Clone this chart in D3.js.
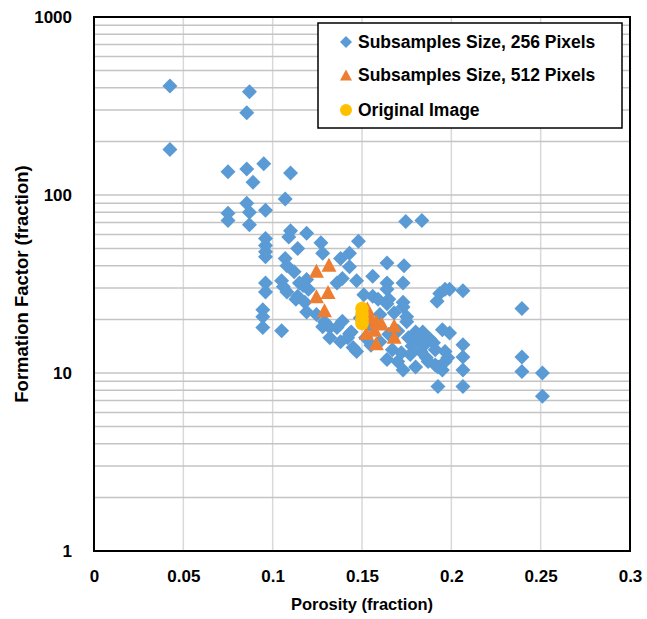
<!DOCTYPE html>
<html>
<head>
<meta charset="utf-8">
<script src="https://cdn.jsdelivr.net/npm/d3@7"></script>
<style>
  html, body { margin: 0; padding: 0; background: #fff; }
  svg { display: block; }
  text { font-family: "Liberation Sans", Arial, sans-serif; font-weight: bold; fill: #000; }
</style>
</head>
<body>
<svg id="chart" width="647" height="619"></svg>
<script>
// Subsamples of 256 pixels: porosity and formation factor
const porosity256 = [0.0425,0.087,0.0855,0.0425,0.075,0.0855,0.095,0.089,0.11,0.107,0.0855,0.075,0.087,0.096,0.075,0.087,0.096,0.11,0.109,0.119,0.114,0.096,0.096,0.096,0.107,0.108,0.105,0.096,0.096,0.112,0.115,0.119,0.108,0.114,0.12,0.0945,0.0945,0.0945,0.105,0.113,0.119,0.118,0.106,0.117,
  0.127,0.128,0.143,0.138,0.143,0.148,0.139,0.136,0.129,0.128,0.132,0.138,0.136,0.139,0.144,0.145,0.147,0.156,0.147,0.164,0.1735,0.164,0.173,0.156,0.164,0.151,0.159,0.165,0.173,0.164,0.173,0.16,0.168,0.175,0.164,0.17,0.167,0.176,0.181,0.177,0.173,0.18,0.1245,0.143,0.132,0.152,0.1545,0.149,0.142,
  0.1745,0.1835,0.175,0.184,0.19,0.1935,0.1965,0.199,0.192,0.2065,0.195,0.199,0.185,0.191,0.1965,0.198,0.187,0.191,0.1965,0.2065,0.2065,0.2065,0.1925,0.195,0.1925,0.2065,0.186,0.2395,0.2395,0.2395,0.251,0.251,
  0.183,0.188,0.178,0.172,0.16,0.165,0.155,0.17,0.18];
const factor256 = [410,380,290,180,135,140,150,118,133,95,90,79,80,82,72,68,57,63,58,61,50,52,48,45,44,40,33,32,28.5,37,32,33.5,28.5,27,29.5,22.7,20.7,18,17.3,26,22,25,30.5,31,
  54,47,47,44,39.5,55,34,32,19.4,18.2,15.8,15,18,19.5,17,13.9,13.2,35,33,41.5,40,32,32,27,29.5,27.5,26,26,25,24.5,23.5,21.3,21.8,19.4,11.9,11.6,13.5,15.8,15.4,12.7,10.4,10.8,21.3,16.6,18,15.8,18.7,20.4,15.8,
  71,72,20.7,17,14.8,28,29.5,29.5,25.3,29,17.5,16.8,14.4,13.5,13.2,12.2,11.6,11.1,11.6,14.4,12.3,10.4,10.8,10.4,8.4,8.4,12.2,23,12.3,10.2,10,7.4,
  13.2,15.5,14.2,13.0,15.0,16.5,14.3,17.2,17.0];

// Subsamples of 512 pixels
const porosity512 = [0.1245,0.1315,0.1245,0.131,0.129,0.153,0.155,0.158,0.161,0.1525,0.158,0.168,0.168,0.157];
const factor512   = [37.5,40.5,27,28.5,22.5,23,20.5,19.5,19,16.8,14.7,18.5,16,17.5];

// Original image
const porosityOrig = [0.15,0.15,0.15,0.15];
const factorOrig   = [23,21.5,20,19];

const seriesNames = ["Subsamples Size, 256 Pixels", "Subsamples Size, 512 Pixels", "Original Image"];
const seriesColors = ["#5B9BD5", "#ED7D31", "#FFC000"];

const xTickValues = [0, 0.05, 0.1, 0.15, 0.2, 0.25, 0.3];
const xTickLabels = ["0", "0.05", "0.1", "0.15", "0.2", "0.25", "0.3"];
const yTickValues = [1, 10, 100, 1000];
const yTickLabels = ["1", "10", "100", "1000"];

const svg = d3.select("#chart");
const plot = { left: 94, top: 17, right: 630, bottom: 551 };

const x = d3.scaleLinear().domain([0, 0.3]).range([plot.left, plot.right]);
const y = d3.scaleLog().domain([1, 1000]).range([plot.bottom, plot.top]);

// Vertical gridlines
svg.append("g")
  .selectAll("line")
  .data(xTickValues.slice(1, -1))
  .join("line")
  .attr("x1", d => x(d)).attr("x2", d => x(d))
  .attr("y1", plot.top).attr("y2", plot.bottom)
  .attr("stroke", "#d9d9d9").attr("stroke-width", 1.5);

// Horizontal gridlines on every log step
const yGrid = [];
[1, 10, 100].forEach(dec => { for (let k = 1; k <= 9; k++) { const v = dec * k; if (v > 1) yGrid.push(v); } });
svg.append("g")
  .selectAll("line")
  .data(yGrid)
  .join("line")
  .attr("x1", plot.left).attr("x2", plot.right)
  .attr("y1", d => y(d)).attr("y2", d => y(d))
  .attr("stroke", "#c4c4c4").attr("stroke-width", 1.5);

// Axes (labels only; the frame is drawn separately)
const xAxis = d3.axisBottom(x).tickValues(xTickValues)
  .tickFormat((d, i) => xTickLabels[i]).tickSize(0).tickPadding(19);
svg.append("g").attr("transform", `translate(0,${plot.bottom})`).call(xAxis)
  .call(g => g.select(".domain").remove())
  .selectAll("text").style("font-size", "17px").attr("font-family", null);

const yAxis = d3.axisLeft(y).tickValues(yTickValues)
  .tickFormat((d, i) => yTickLabels[i]).tickSize(0).tickPadding(22);
svg.append("g").attr("transform", `translate(${plot.left},0)`).call(yAxis)
  .call(g => g.select(".domain").remove())
  .selectAll("text").style("font-size", "17px").attr("font-family", null);

// Plot frame
svg.append("rect")
  .attr("x", plot.left).attr("y", plot.top)
  .attr("width", plot.right - plot.left).attr("height", plot.bottom - plot.top)
  .attr("fill", "none").attr("stroke", "#000").attr("stroke-width", 2);

// Marker shapes
const diamond = r => `M0,${-r}L${r},0L0,${r}L${-r},0Z`;
const triangle = (w, h) => `M0,${-h / 2}L${w / 2},${h / 2}L${-w / 2},${h / 2}Z`;

const pts256 = porosity256.map((p, i) => [p, factor256[i]]);
const pts512 = porosity512.map((p, i) => [p, factor512[i]]);
const ptsOrig = porosityOrig.map((p, i) => [p, factorOrig[i]]);

svg.append("g").selectAll("path").data(pts256).join("path")
  .attr("d", diamond(7.5))
  .attr("transform", d => `translate(${x(d[0])},${y(d[1])})`)
  .attr("fill", seriesColors[0]);

svg.append("g").selectAll("path").data(pts512).join("path")
  .attr("d", triangle(15, 14))
  .attr("transform", d => `translate(${x(d[0])},${y(d[1])})`)
  .attr("fill", seriesColors[1]);

svg.append("g").selectAll("circle").data(ptsOrig).join("circle")
  .attr("cx", d => x(d[0])).attr("cy", d => y(d[1])).attr("r", 6.8)
  .attr("fill", seriesColors[2]);

// Axis titles
svg.append("text")
  .attr("x", (plot.left + plot.right) / 2).attr("y", 610)
  .attr("text-anchor", "middle").style("font-size", "16.5px")
  .text("Porosity (fraction)");

svg.append("text")
  .attr("transform", `translate(28,${(plot.top + plot.bottom) / 2}) rotate(-90)`)
  .attr("text-anchor", "middle").style("font-size", "18.5px")
  .text("Formation Factor (fraction)");

// Legend
const legend = svg.append("g").attr("transform", "translate(318,23)");
legend.append("rect")
  .attr("width", 304).attr("height", 105)
  .attr("fill", "#fff").attr("stroke", "#000").attr("stroke-width", 1.5);
const rowY = [19, 52, 87];
seriesNames.forEach((name, i) => {
  const row = legend.append("g").attr("transform", `translate(28,${rowY[i]})`);
  if (i === 0) row.append("path").attr("d", diamond(6)).attr("fill", seriesColors[0]);
  if (i === 1) row.append("path").attr("d", triangle(12, 11)).attr("fill", seriesColors[1]);
  if (i === 2) row.append("circle").attr("r", 6).attr("fill", seriesColors[2]);
  row.append("text").attr("x", 12).attr("dy", "0.36em")
    .style("font-size", "17.5px").text(name);
});
</script>
</body>
</html>
